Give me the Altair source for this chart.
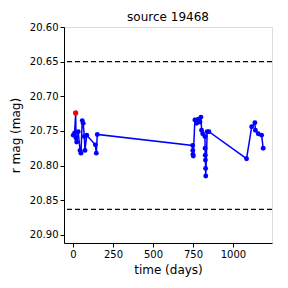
import altair as alt
import pandas as pd

days = [2, 10, 17, 19, 23, 33, 44, 50, 58, 64, 71, 75, 86, 140, 146, 152,
        748, 749, 750, 752, 762, 773, 783, 794, 800, 804, 811, 825, 826, 827,
        828, 829, 830, 839, 850,
        1085, 1117, 1137, 1140, 1158, 1179, 1189]
mags = [20.756, 20.753, 20.724, 20.760, 20.766, 20.751, 20.778, 20.782, 20.735,
        20.739, 20.758, 20.778, 20.756, 20.770, 20.782, 20.755,
        20.771, 20.778, 20.784, 20.786, 20.734, 20.739, 20.733, 20.737, 20.730,
        20.749, 20.754, 20.758, 20.775, 20.785, 20.792, 20.804, 20.815, 20.751, 20.751,
        20.790, 20.744, 20.738, 20.749, 20.754, 20.756, 20.775]
flagged = [False, False, True] + [False] * (len(days) - 3)

hlines = [20.65, 20.863]
x_ticks = [0, 250, 500, 750, 1000]
y_ticks = [20.60, 20.65, 20.70, 20.75, 20.80, 20.85, 20.90]

df = pd.DataFrame({"day": days, "mag": mags, "flag": flagged})
hdf = pd.DataFrame({"m": hlines})

font = "DejaVu Sans"
xs = alt.Scale(domain=[-56, 1244], nice=False, zero=False)
ys = alt.Scale(domain=[20.60, 20.9116], nice=False, zero=False, reverse=True)

xax = alt.Axis(values=x_ticks, format="d", title="time (days)", grid=False, labelFont=font,
               titleFont=font, labelFontSize=10, titleFontSize=12,
               titleFontWeight="normal", labelColor="black", titleColor="black",
               tickColor="black", domainColor="black", tickSize=4, labelPadding=2,
               titlePadding=5, labelOverlap=False, labelFlush=False)
yax = alt.Axis(values=y_ticks, format=".2f", title="r mag (mag)", grid=False,
               labelFont=font, titleFont=font, labelFontSize=10, titleFontSize=12,
               titleFontWeight="normal", labelColor="black", titleColor="black",
               tickColor="black", domainColor="black", tickSize=4, labelPadding=2,
               titlePadding=7, labelOverlap=False, labelFlush=False, tickCount=7)

X = alt.X("day:Q", scale=xs, axis=xax)
Y = alt.Y("mag:Q", scale=ys, axis=yax)

base = alt.Chart(df)
line = base.mark_line(color="blue", strokeWidth=1.5, clip=True).encode(x=X, y=Y)
pts = base.mark_circle(color="blue", size=24, opacity=1).encode(x=X, y=Y)
red = base.transform_filter("datum.flag").mark_circle(color="red", size=26, opacity=1).encode(x=X, y=Y)
rules = alt.Chart(hdf).mark_rule(color="black", strokeDash=[5, 3], strokeWidth=1.3).encode(
    y=alt.Y("m:Q", scale=ys, axis=yax)
)

chart = alt.layer(line, pts, red, rules).properties(
    width=208, height=216,
    title=alt.TitleParams("source 19468", font=font, fontSize=12, fontWeight="normal",
                          color="black", offset=5, frame="group", dy=7),
    autosize=alt.AutoSizeParams(type="none"),
    padding={"left": 56, "top": 19, "right": 8, "bottom": 45},
).configure_view(stroke="black", strokeWidth=1).configure(background="white")

chart.save("out.html", embed_options={"renderer": "svg", "actions": False})
